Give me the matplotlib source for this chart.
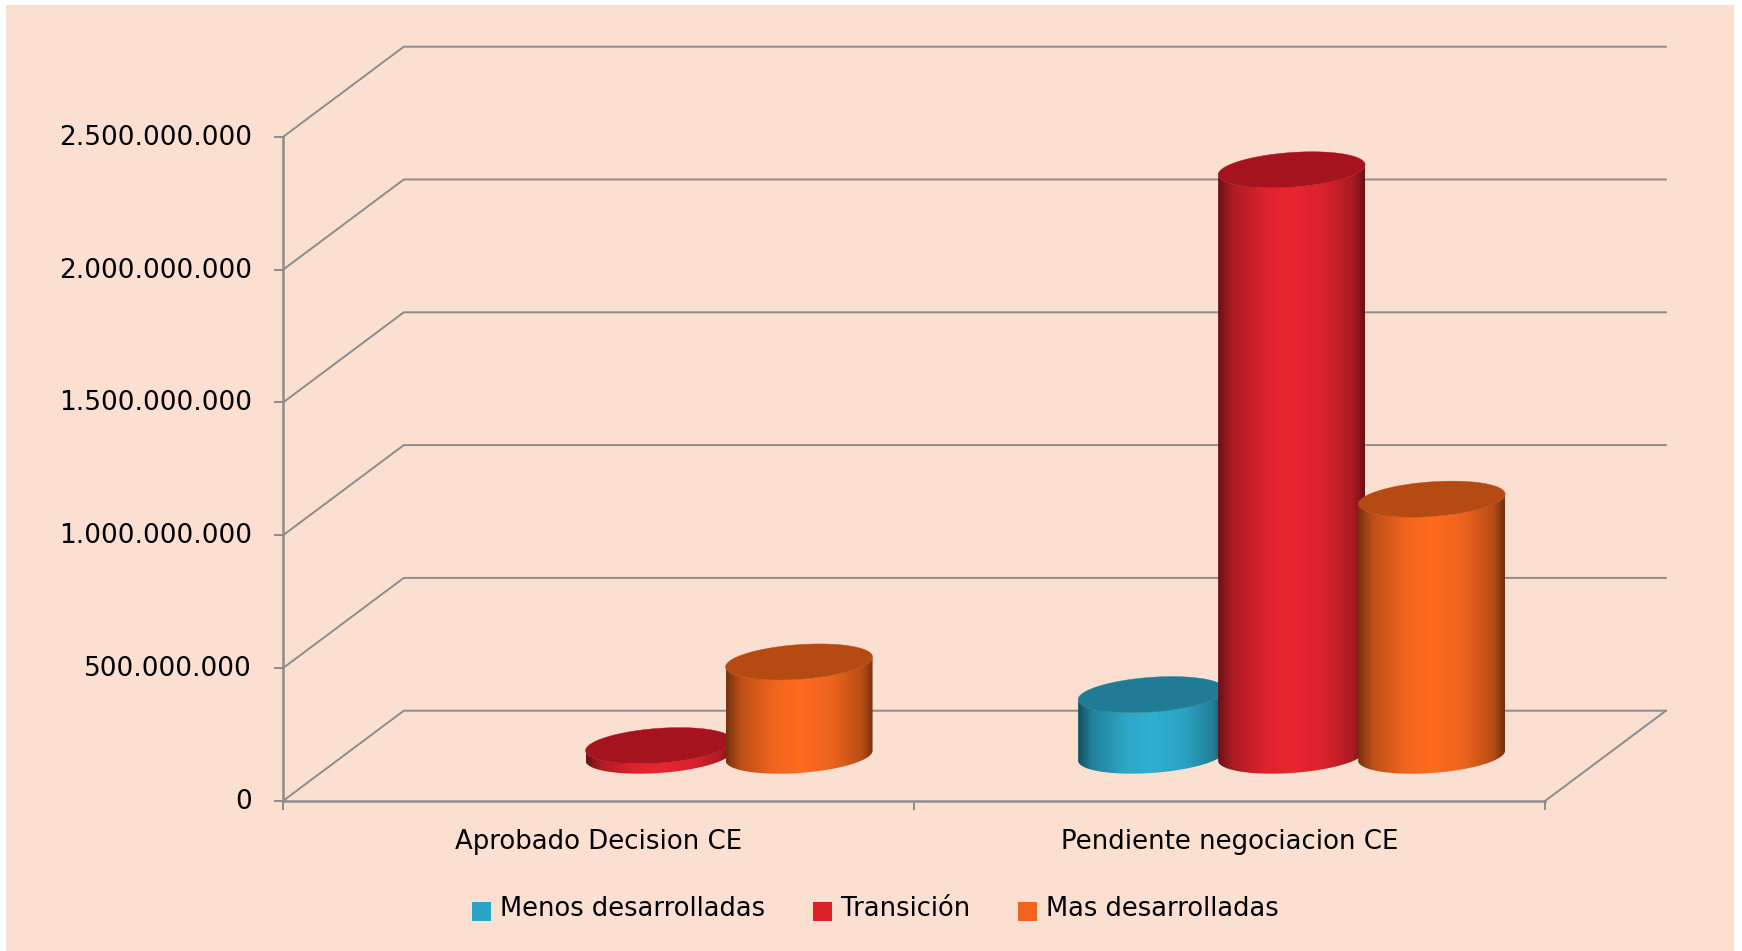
import numpy as np
import matplotlib
matplotlib.use("Agg")
import matplotlib.pyplot as plt
from matplotlib.colors import LinearSegmentedColormap, to_rgb
from matplotlib.patches import Patch, PathPatch, Rectangle
from matplotlib.path import Path
from matplotlib.transforms import ScaledTranslation

categories = ["Aprobado Decision CE", "Pendiente negociacion CE"]
series_names = ["Menos desarrolladas", "Transición", "Mas desarrolladas"]
menos = [0, 230e6]
transicion = [38e6, 2206e6]
mas = [353e6, 966e6]
series_values = [menos, transicion, mas]
y_ticks = [0, 500e6, 1000e6, 1500e6, 2000e6, 2500e6]
face_colors = ["#2fb0d2", "#ea2530", "#ff6b1f"]
top_colors = ["#207c94", "#a5141e", "#b54b12"]
legend_colors = ["#2ba3c4", "#dc1f28", "#f26322"]

BG = "#fbe0d2"
GREY = "#8c8c8c"
W, H = 1742, 951
L, R, T, B = 283.3, 1545.4, 136.7, 800.7

fig = plt.figure(figsize=(W / 100, H / 100), dpi=100, facecolor="white")
fig.patches.append(Rectangle((6 / W, 0), (1734 - 6) / W, 1 - 5 / H, transform=fig.transFigure,
                             facecolor=BG, edgecolor="none", zorder=-10))
ax = fig.add_axes([L / W, 1 - B / H, (R - L) / W, (B - T) / H])
ax.patch.set_visible(False)
ax.set_xlim(0, 2)
ax.set_ylim(0, 2.5e9)

px_x = 2 / (R - L)
px_y = 2.5e9 / (B - T)
depth_x = 120.5 * px_x
depth_y = 90 * px_y

# walls and floor
for v in y_ticks:
    ax.plot([0, depth_x, 2 + depth_x], [v, v + depth_y, v + depth_y], color=GREY,
            lw=1.4, clip_on=False, zorder=1, solid_joinstyle="miter")
ax.plot([2, 2 + depth_x], [0, depth_y], color=GREY, lw=1.4, clip_on=False, zorder=1)

# cylinders
half_w = 73.5 * px_x
tilt = 5 * px_y
minor = 17.3 * px_y
spacing = 140 * px_x
group_centers = [0.5, 0.5 + 1.5 * px_x + 1.0]
stops = [0.0, 0.1, 0.33, 0.5, 0.72, 0.92, 1.0]
shade = [0.46, 0.74, 0.95, 1.0, 0.93, 0.72, 0.46]

def ellipse(cx, cy, t):
    return np.column_stack([cx + half_w * np.cos(t), cy + tilt * np.cos(t) + minor * np.sin(t)])

lower = np.linspace(np.pi, 2 * np.pi, 80)
whole = np.linspace(0, 2 * np.pi, 160)
grad = np.linspace(0, 1, 256).reshape(1, -1)

for s, vals in enumerate(series_values):
    base = np.array(to_rgb(face_colors[s]))
    cmap = LinearSegmentedColormap.from_list(
        f"c{s}", [(p, tuple(base * f)) for p, f in zip(stops, shade)])
    for c, v in enumerate(vals):
        if v <= 0:
            continue
        cx = group_centers[c] + (s - 1) * spacing + 0.5 * depth_x
        y0 = 0.5 * depth_y
        y1 = v + y0
        pts = np.vstack([ellipse(cx, y0, lower), ellipse(cx, y1, lower[::-1])])
        clip = PathPatch(Path(np.vstack([pts, pts[0]])), transform=ax.transData,
                         facecolor="none", edgecolor="none", zorder=3 + s)
        ax.add_patch(clip)
        im = ax.imshow(grad, extent=[cx - half_w, cx + half_w, y0 - 3 * minor, y1 + 3 * minor],
                       aspect="auto", cmap=cmap, vmin=0, vmax=1, interpolation="bilinear",
                       zorder=3 + s)
        im.set_clip_path(clip)
        ax.fill(*ellipse(cx, y1, whole).T, color=top_colors[s], lw=0.3, zorder=3 + s + 0.5)

ax.set_xlim(0, 2)
ax.set_ylim(0, 2.5e9)

for side in ("top", "right"):
    ax.spines[side].set_visible(False)
for side in ("left", "bottom"):
    ax.spines[side].set_color(GREY)
    ax.spines[side].set_linewidth(1.8)

ax.set_yticks(y_ticks)
ax.set_yticklabels([f"{int(v):,}".replace(",", ".") for v in y_ticks])
ax.set_xticks([0, 1, 2])
ax.set_xticklabels([])
ax.set_xticks([0.5, 1.5], minor=True)
ax.set_xticklabels(categories, minor=True)
ax.tick_params(axis="both", which="major", length=6.5, width=1.4, color=GREY,
               labelsize=19, labelcolor="black")
ax.tick_params(axis="y", pad=16)
ax.tick_params(axis="x", which="minor", length=0, labelsize=18.7, pad=20.5)
for lab in ax.get_yticklabels():
    lab.set_transform(lab.get_transform() + ScaledTranslation(0, 2 / 100, fig.dpi_scale_trans))

handles = [Patch(facecolor=col, edgecolor="none", label=n)
           for col, n in zip(legend_colors, series_names)]
leg = fig.legend(handles=handles, loc="center", bbox_to_anchor=(875.5 / W, 1 - 909 / H), ncols=3,
                 frameon=False, fontsize=18.5, handlelength=0.74, handleheight=0.74,
                 handletextpad=0.36, columnspacing=1.86, borderpad=0, borderaxespad=0)
for p in leg.get_patches():
    p.set_y(p.get_y() - 3.0)

fig.savefig("out.png", dpi=100, facecolor="white")
